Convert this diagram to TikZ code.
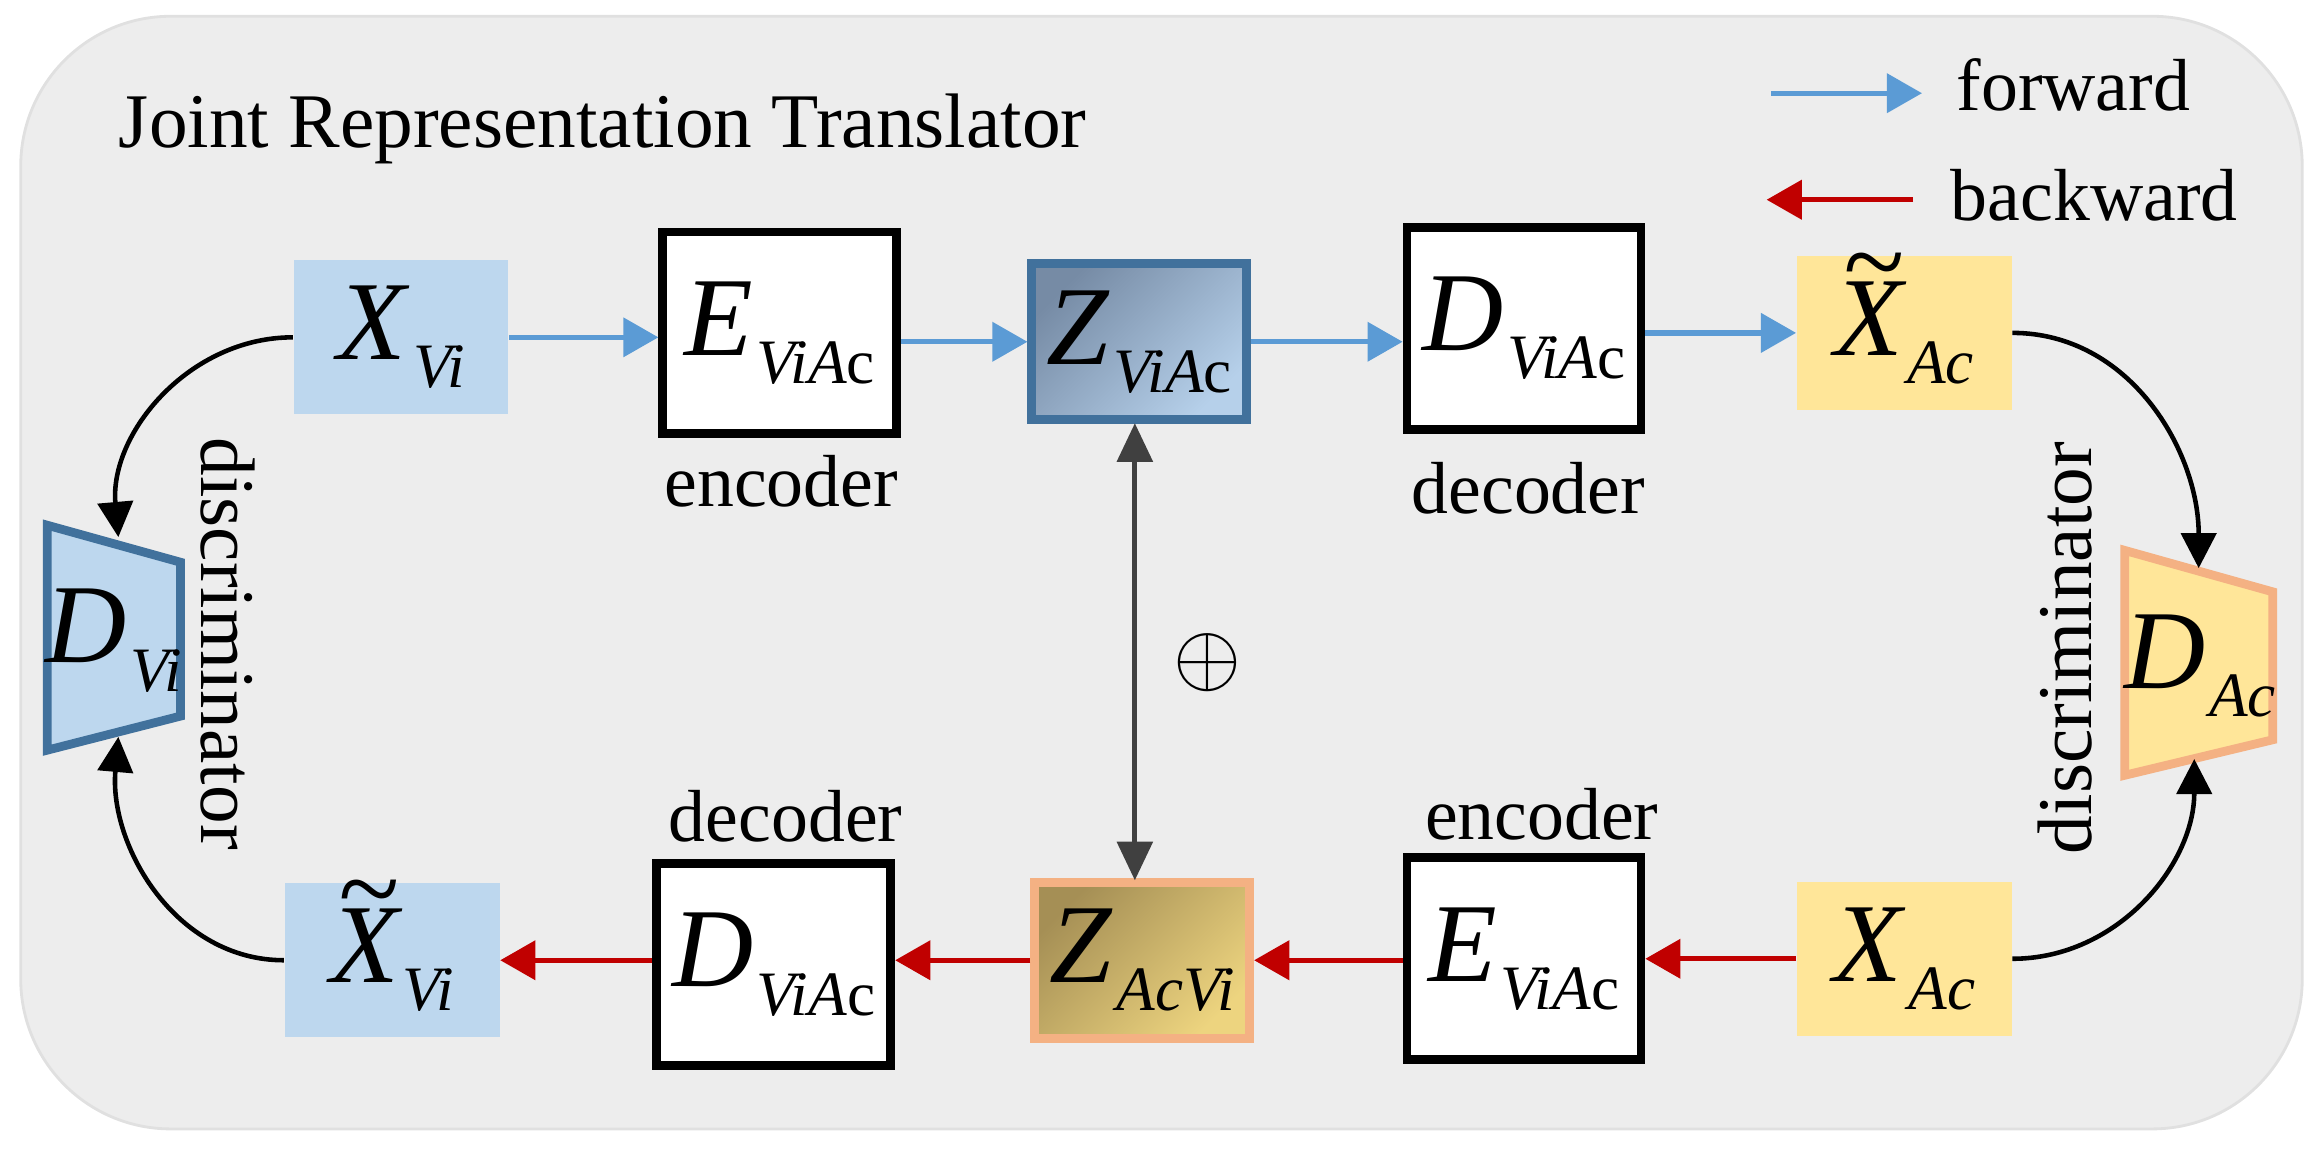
\documentclass[tikz,border=0pt]{standalone}
\usepackage{fontspec}
\setmainfont{Liberation Serif}
\usetikzlibrary{arrows.meta,calc}
\definecolor{bg}{HTML}{EDEDED}
\definecolor{lblue}{HTML}{BDD7EE}
\definecolor{dblue}{HTML}{41719C}
\definecolor{lyel}{HTML}{FFE699}
\definecolor{lora}{HTML}{F4B183}
\definecolor{fwd}{HTML}{5B9BD5}
\definecolor{bwd}{HTML}{C00000}
\definecolor{zbd}{HTML}{768BA5}
\definecolor{zbl}{HTML}{B6D0EA}
\definecolor{zgd}{HTML}{A58F55}
\definecolor{zgl}{HTML}{EDD47F}
\newcommand{\lbl}[2]{{\fontsize{32}{34}\selectfont\textit{#1}}\kern1pt\raisebox{-8pt}{\fontsize{18}{20}\selectfont #2}}
\newcommand{\tilX}{\ooalign{\textit{X}\cr\hidewidth\kern2pt\raisebox{0.5em}{\textit{\textasciitilde}}\hidewidth\cr}}
\tikzset{
  box/.style={draw=black,line width=2.5pt,fill=white,minimum width=2.34cm,minimum height=2.02cm,inner sep=0},
  cbox/.style={minimum width=2.15cm,minimum height=1.54cm,inner sep=0},
  zbox/.style={line width=2.5pt,minimum width=2.15cm,minimum height=1.56cm,inner sep=0},
  lab/.style={font=\fontsize{21}{24}\selectfont},
  disc/.style={font=\fontsize{22}{24}\selectfont},
  leg/.style={font=\fontsize{21}{24}\selectfont,anchor=base west},
  fa/.style={draw=fwd,line width=1.5pt,-{Triangle[length=10pt,width=11pt]}},
  ba/.style={draw=bwd,line width=1.5pt,-{Triangle[length=10pt,width=11pt]}},
  ka/.style={draw=black,line width=1.3pt,-{Triangle[length=10pt,width=10pt]}},
}
\begin{document}
\begin{tikzpicture}[x=0.0148cm,y=-0.0148cm]
\useasboundingbox (0,0) rectangle (1568,778.6);
\draw[fill=bg,draw=black!12,line width=0.8pt,rounded corners=1.5cm] (14,11) rectangle (1556,763);
\node[anchor=base west,font=\fontsize{22}{26}\selectfont] (title) at (72,100) {Joint Representation Translator};
% legend
\coordinate (f1) at (1197,63); \coordinate (f2) at (1299,63);
\draw[fa] (f1) -- (f2);
\node[leg] (fl) at (1314,75) {forward};
\coordinate (b1) at (1293,135); \coordinate (b2) at (1194,135);
\draw[ba] (b1) -- (b2);
\node[leg] (bl) at (1310,149) {backward};
% top row
\node[cbox,fill=lblue] (xvi) at (271,228) {\lbl{X}{\textit{Vi}}};
\node[box] (e1) at (527,225) {\lbl{E}{\textit{ViA}c}};
\node[zbox,draw=dblue,top color=zbd,bottom color=zbl,shading angle=45] (z1) at (770,231) {\lbl{Z}{\textit{ViA}c}};
\node[box] (d1) at (1030,222) {\lbl{D}{\textit{ViA}c}};
\node[cbox,fill=lyel] (xac1) at (1287,225) {\lbl{\tilX}{\textit{Ac}}};
\node[lab] (enc1) at (528,325) {encoder};
\node[lab] (dec1) at (1033,330) {decoder};
\draw[fa] (xvi.east) -- (e1.west|-xvi.east);
\draw[fa] (e1.east|-z1) -- (z1.west);
\draw[fa] (z1.east) -- (d1.west|-z1);
\draw[fa] (d1.east|-xac1) -- (xac1.west);
% bottom row
\node[cbox,fill=lblue] (xvi2) at (265,649) {\lbl{\tilX}{\textit{Vi}}};
\node[box] (d2) at (523,652) {\lbl{D}{\textit{ViA}c}};
\node[zbox,draw=lora,top color=zgd,bottom color=zgl,shading angle=45] (z2) at (772,649) {\lbl{Z}{\textit{AcVi}}};
\node[box] (e2) at (1030,648) {\lbl{E}{\textit{ViA}c}};
\node[cbox,fill=lyel] (xac2) at (1287,648) {\lbl{X}{\textit{Ac}}};
\node[lab] (dec2) at (531,552) {decoder};
\node[lab] (enc2) at (1042,550) {encoder};
\draw[ba] (xac2.west) -- (e2.east|-xac2);
\draw[ba] (e2.west|-z2) -- (z2.east);
\draw[ba] (z2.west) -- (d2.east|-z2);
\draw[ba] (d2.west|-xvi2) -- (xvi2.east);
% vertical double arrow
\coordinate (va) at (767,286); \coordinate (vb) at (767,595);
\draw[draw=black!75,line width=1.5pt,{Triangle[length=11pt,width=10pt]}-{Triangle[length=11pt,width=10pt]}] (va) -- (vb);
\node[font=\fontsize{46}{48}\selectfont] (oplus) at (816,448) {$\oplus$};
% discriminators
\draw[fill=lblue,draw=dblue,line width=2.5pt] (32,355) -- (122,380) -- (122,484) -- (32,507) -- cycle;
\node (dvi) at (77,433) {\lbl{D}{\textit{Vi}}};
\coordinate (dvit) at (80,363); \coordinate (dvib) at (80,498);
\draw[fill=lyel,draw=lora,line width=2.5pt] (1436,372) -- (1536,400) -- (1536,500) -- (1436,524) -- cycle;
\node (dac) at (1487,450) {\lbl{D}{\textit{Ac}}};
\coordinate (dact) at (1486,384); \coordinate (dacb) at (1483,513);
\node[disc,rotate=-90] (disc1) at (154,435) {discriminator};
\node[disc,rotate=90] (disc2) at (1396,438) {discriminator};
\draw[ka] (xvi.west) to[out=180,in=95] (dvit);
\draw[ka] (xvi2.west) to[out=180,in=-95] (dvib);
\draw[ka] (xac1.east) to[out=0,in=90] (dact);
\draw[ka] (xac2.east) to[out=0,in=-90] (dacb);
\end{tikzpicture}
\end{document}
